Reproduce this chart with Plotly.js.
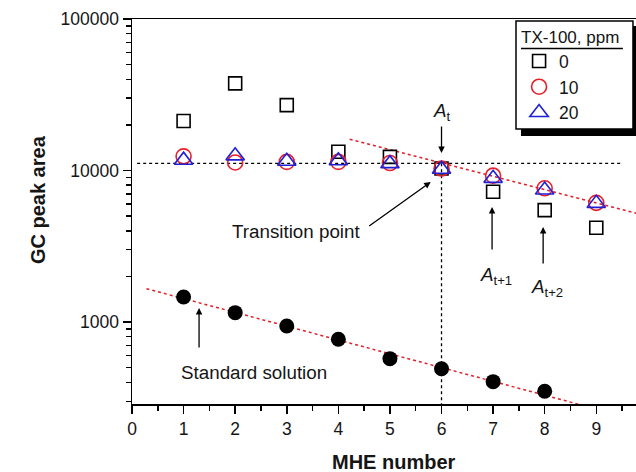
<!DOCTYPE html>
<html>
<head>
<meta charset="utf-8">
<script src="https://cdn.plot.ly/plotly-3.0.1.min.js"></script>
<style>html,body{margin:0;padding:0;overflow:hidden;background:#fff;}#chart{width:636px;height:472px;}</style>
</head>
<body>
<div id="chart"></div>
<script>
// ---- data ----
const mheNumber = [1, 2, 3, 4, 5, 6, 7, 8, 9];
const tx0 = [21200, 37600, 27000, 13300, 12300, 10300, 7240, 5480, 4190];
const tx10 = [12400, 11300, 11400, 11400, 11200, 10300, 9250, 7630, 6120];
const tx20 = [11700, 12500, 11500, 11600, 11100, 10200, 8880, 7430, 6070];
const stdX = [1, 2, 3, 4, 5, 6, 7, 8];
const stdSolution = [1462, 1153, 942, 769, 573, 492, 404, 349];
const seriesNames = ['0', '10', '20'];

// reference / fit lines
const plateauX = [0.1, 9.48];
const plateauY = [11150, 11150];
const transitionX = [6, 6];
const transitionY = [11150, 280];
const fitUpperX = [4.22, 9.8];
const fitUpperY = [16070, 5190];
const fitStdX = [0.28, 8.7];
const fitStdY = [1660, 284];

const xTickVals = [0, 1, 2, 3, 4, 5, 6, 7, 8, 9];
const yTickVals = [1000, 10000, 100000];
const yTickText = ['1000', '10000', '100000'];

const FONT = 'Liberation Sans, Arial, Helvetica, sans-serif';
const TXT = '#151515';

const traces = [
  {x: plateauX, y: plateauY, mode: 'lines', line: {color: '#000', width: 1.3, dash: 'dot'}, showlegend: false, hoverinfo: 'skip'},
  {x: transitionX, y: transitionY, mode: 'lines', line: {color: '#000', width: 1.3, dash: 'dot'}, showlegend: false, hoverinfo: 'skip'},
  {x: fitUpperX, y: fitUpperY, mode: 'lines', line: {color: '#e0202a', width: 1.5, dash: 'dot'}, showlegend: false, hoverinfo: 'skip'},
  {x: fitStdX, y: fitStdY, mode: 'lines', line: {color: '#e0202a', width: 1.5, dash: 'dot'}, showlegend: false, hoverinfo: 'skip'},
  {x: stdX, y: stdSolution, mode: 'markers', marker: {symbol: 'circle', size: 15, color: '#000'}, showlegend: false, cliponaxis: false},
  {x: mheNumber, y: tx0, name: seriesNames[0], mode: 'markers', marker: {symbol: 'square-open', size: 13, color: '#000', line: {width: 1.6}}, cliponaxis: false},
  {x: mheNumber, y: tx10, name: seriesNames[1], mode: 'markers', marker: {symbol: 'circle-open', size: 15, color: '#e8202a', line: {width: 1.6}}, cliponaxis: false},
  {x: mheNumber, y: tx20, name: seriesNames[2], mode: 'markers', marker: {symbol: 'triangle-up-open', size: 16, color: '#1f1fd6', line: {width: 1.6}}, cliponaxis: false}
];

function lg(v){ return Math.log10(v); }

const annFont = {family: FONT, size: 18.8, color: TXT};
const annotations = [
  // axis titles
  {xref: 'paper', yref: 'paper', x: -0.212, y: 0.53, text: '<b>GC peak area</b>', textangle: -90, showarrow: false, font: {family: FONT, size: 20, color: TXT}},
  {xref: 'paper', yref: 'paper', x: 0.52, y: -0.15, text: '<b>MHE number</b>', showarrow: false, yanchor: 'middle', font: {family: FONT, size: 20, color: TXT}},
  // A_t
  {x: 6, y: lg(24500), text: '<i>A</i><sub>t</sub>', showarrow: false, font: annFont},
  {x: 6, y: lg(13060), ax: 0, ay: -28, text: '', showarrow: true, arrowhead: 2, arrowsize: 1, arrowwidth: 1.3, arrowcolor: '#000'},
  // Transition point
  {x: 3.18, y: lg(3945), text: 'Transition point', showarrow: false, font: annFont},
  {x: 5.79, y: lg(8400), ax: -63, ay: 45, text: '', showarrow: true, arrowhead: 2, arrowsize: 1, arrowwidth: 1.3, arrowcolor: '#000'},
  // A_{t+1}
  {x: 7.05, y: lg(2000), text: '<i>A</i><sub>t+1</sub>', showarrow: false, font: annFont},
  {x: 6.98, y: lg(5740), ax: 0, ay: 44, text: '', showarrow: true, arrowhead: 2, arrowsize: 1, arrowwidth: 1.3, arrowcolor: '#000'},
  // A_{t+2}
  {x: 8.04, y: lg(1680), text: '<i>A</i><sub>t+2</sub>', showarrow: false, font: annFont},
  {x: 7.97, y: lg(4240), ax: 0, ay: 38, text: '', showarrow: true, arrowhead: 2, arrowsize: 1, arrowwidth: 1.3, arrowcolor: '#000'},
  // Standard solution
  {x: 2.37, y: lg(462), text: 'Standard solution', showarrow: false, font: annFont},
  {x: 1.3, y: lg(1236), ax: 0, ay: 41, text: '', showarrow: true, arrowhead: 2, arrowsize: 1, arrowwidth: 1.3, arrowcolor: '#000'}
];

const shapes = [
  // legend shadow
  {type: 'rect', xref: 'paper', yref: 'paper', x0: 0.7718, x1: 1.05, y0: 0.6961, y1: 0.9818, fillcolor: '#000', line: {width: 0}, layer: 'above'},
  // legend box
  {type: 'rect', xref: 'paper', yref: 'paper', x0: 0.7619, x1: 0.994, y0: 0.7143, y1: 0.9948, fillcolor: '#fff', line: {color: '#000', width: 1.5}, layer: 'above'},
  // legend title underline
  {type: 'line', xref: 'paper', yref: 'paper', x0: 0.7718, x1: 0.974, y0: 0.9234, y1: 0.9234, line: {color: '#000', width: 1.3}, layer: 'above'}
];

const layout = {
  width: 636, height: 472,
  margin: {l: 132, r: 0, t: 19, b: 68},
  paper_bgcolor: '#fff', plot_bgcolor: '#fff',
  font: {family: FONT, size: 17, color: TXT},
  showlegend: true,
  legend: {
    x: 0.768, y: 0.9948, xanchor: 'left', yanchor: 'top',
    bgcolor: 'rgba(0,0,0,0)', borderwidth: 0,
    font: {family: FONT, size: 17.5, color: TXT},
    title: {text: 'TX-100, ppm', font: {family: FONT, size: 17, color: TXT}},
    itemclick: false
  },
  xaxis: {
    range: [0, 9.77], tickvals: xTickVals, ticks: 'outside', ticklen: 8, tickwidth: 1.5, tickcolor: '#000',
    showline: true, linecolor: '#000', linewidth: 1.5, mirror: true, showgrid: false, zeroline: false,
    tickfont: {family: FONT, size: 17.5, color: TXT},
    minor: {dtick: 0.5, ticks: 'outside', ticklen: 5, tickwidth: 1.5, tickcolor: '#000', showgrid: false}
  },
  yaxis: {
    type: 'log', range: [2.459, 5], tickvals: yTickVals, ticktext: yTickText,
    ticks: 'outside', ticklen: 8, tickwidth: 1.5, tickcolor: '#000',
    showline: true, linecolor: '#000', linewidth: 1.5, mirror: false, showgrid: false, zeroline: false,
    tickfont: {family: FONT, size: 17.5, color: TXT},
    minor: {dtick: 'D1', ticks: 'outside', ticklen: 5, tickwidth: 1.5, tickcolor: '#000', showgrid: false}
  },
  annotations: annotations,
  shapes: shapes
};

Plotly.newPlot('chart', traces, layout, {staticPlot: true, displayModeBar: false});
</script>
</body>
</html>
